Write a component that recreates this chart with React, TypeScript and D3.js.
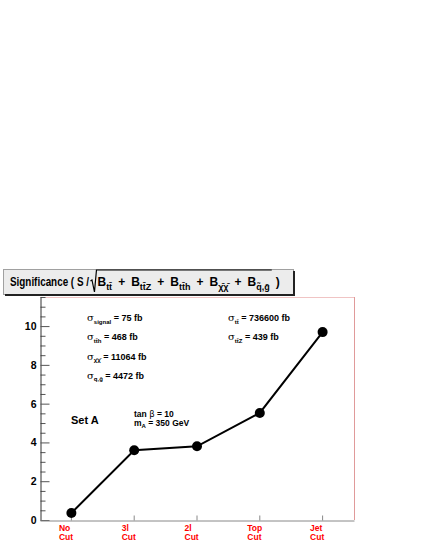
import React, { useEffect, useRef } from 'react';
import * as d3 from 'd3';

const W = 425;
const H = 550;

// cut flow categories (two-line labels) and the significance after each cut
const cutTop = ['No', '3l', '2l', 'Top', 'Jet'];
const cutBottom = ['Cut', 'Cut', 'Cut', 'Cut', 'Cut'];
const significance = [0.36, 3.6, 3.8, 5.52, 9.69];

const yMajorTicks = [0, 2, 4, 6, 8, 10];
const yMinorStep = 0.5;
const yMax = 11.5;

// cross sections written on the pad
const leftSigmaSubs = ['signal', 'tt\u0304h', '\u03C7\u0304\u03C7\u0304', 'q\u0304,g\u0304'];
const leftSigmaVals = ['75 fb', '468 fb', '11064 fb', '4472 fb'];
const rightSigmaSubs = ['tt\u0304', 'tt\u0304Z'];
const rightSigmaVals = ['736600 fb', '439 fb'];

// backgrounds under the square root in the title
const titleSubs = ['tt\u0304', 'tt\u0304Z', 'tt\u0304h', '\u03C7\u0304\u03C7\u0304', 'q\u0303,g\u0304'];

const FONT = '"Liberation Sans", Arial, Helvetica, sans-serif';

const App = () => {
    const svgRef = useRef<SVGSVGElement | null>(null);

    useEffect(() => {
        if (!svgRef.current) return;
        const svg = d3.select(svgRef.current);
        svg.selectAll('*').remove();

        const frame = { left: 40, right: 354, top: 297, bottom: 520 };

        const x = d3.scaleBand<string>()
            .domain(cutTop)
            .range([frame.left, frame.right]);
        const cx = (c: string) => (x(c) || 0) + x.bandwidth() / 2;

        const y = d3.scaleLinear()
            .domain([0, yMax])
            .range([frame.bottom, frame.top]);

        // --- FRAME (top + right, pinkish) ---
        svg.append('line')
            .attr('x1', frame.left).attr('x2', frame.right)
            .attr('y1', frame.top + 0.5).attr('y2', frame.top + 0.5)
            .attr('stroke', '#f0c4c4');
        svg.append('line')
            .attr('x1', frame.right + 0.5).attr('x2', frame.right + 0.5)
            .attr('y1', frame.top).attr('y2', frame.bottom)
            .attr('stroke', '#e09a9a');

        // --- Y AXIS ---
        const minorVals = d3.range(0, yMax + 0.01, yMinorStep)
            .filter(v => !yMajorTicks.includes(v));

        const yMinor = svg.append('g')
            .attr('transform', `translate(${frame.left + 0.5},0)`)
            .call(d3.axisLeft(y).tickValues(minorVals).tickSize(-5).tickSizeOuter(0).tickFormat(() => ''));
        yMinor.select('.domain').remove();
        yMinor.selectAll('.tick line').attr('stroke', '#555');

        const yAxis = svg.append('g')
            .attr('transform', `translate(${frame.left + 0.5},0)`)
            .call(d3.axisLeft(y).tickValues(yMajorTicks).tickSize(-9).tickSizeOuter(0).tickPadding(4).tickFormat(d3.format('d')));
        yAxis.select('.domain').attr('stroke', '#333');
        yAxis.selectAll('.tick line').attr('stroke', '#555');
        yAxis.selectAll('.tick text')
            .attr('fill', '#000')
            .attr('font-family', FONT)
            .attr('font-weight', 'bold')
            .attr('font-size', '10.5px');

        // --- X AXIS ---
        const xAxis = svg.append('g')
            .attr('transform', `translate(0,${frame.bottom + 0.5})`)
            .call(d3.axisBottom(x).tickSize(-5).tickSizeOuter(0).tickFormat(() => ''));
        xAxis.select('.domain').attr('stroke', '#888');
        xAxis.selectAll('.tick line').attr('stroke', '#888');

        const xLabels = svg.append('g')
            .attr('font-family', FONT)
            .attr('font-weight', 'bold')
            .attr('font-size', '8.5px')
            .attr('fill', '#ff0000');
        cutTop.forEach((c, i) => {
            const t = xLabels.append('text').attr('x', cx(c) - 12.5);
            t.append('tspan').attr('x', cx(c) - 12.5).attr('y', frame.bottom + 10.5).text(c);
            t.append('tspan').attr('x', cx(c) - 12.5).attr('y', frame.bottom + 20).text(cutBottom[i]);
        });

        // --- DATA ---
        const pts = cutTop.map((c, i) => [cx(c), y(significance[i])] as [number, number]);
        svg.append('path')
            .datum(pts)
            .attr('fill', 'none')
            .attr('stroke', '#000')
            .attr('stroke-width', 2)
            .attr('d', d3.line());
        svg.selectAll('.dot')
            .data(pts)
            .enter()
            .append('circle')
            .attr('cx', d => d[0])
            .attr('cy', d => d[1])
            .attr('r', 5)
            .attr('fill', '#000');

        // --- CROSS SECTION ANNOTATIONS ---
        const sigmaRow = (x0: number, y0: number, sub: string, val: string) => {
            const t = svg.append('text')
                .attr('x', x0).attr('y', y0)
                .attr('font-family', FONT)
                .attr('font-size', '9px')
                .attr('font-weight', 'bold');
            t.append('tspan').attr('font-family', '"DejaVu Serif", serif').attr('font-weight', 'normal').attr('font-size', '10px').text('\u03C3');
            t.append('tspan').attr('font-size', '6px').attr('dy', 2.5).text(sub);
            t.append('tspan').attr('dy', -2.5).text(' = ' + val);
        };
        leftSigmaSubs.forEach((s, i) => sigmaRow(87, 321 + i * 19.3, s, leftSigmaVals[i]));
        rightSigmaSubs.forEach((s, i) => sigmaRow(228, 321 + i * 19.3, s, rightSigmaVals[i]));

        svg.append('text')
            .attr('x', 71).attr('y', 424)
            .attr('font-family', FONT)
            .attr('font-weight', 'bold')
            .attr('font-size', '11px')
            .text('Set A');

        const tb = svg.append('text')
            .attr('font-family', FONT)
            .attr('font-weight', 'bold')
            .attr('font-size', '8.5px');
        tb.append('tspan').attr('x', 134).attr('y', 417).text('tan ');
        tb.append('tspan').attr('font-family', '"DejaVu Sans", sans-serif').attr('font-weight', 'normal').text('\u03B2');
        tb.append('tspan').text(' = 10');
        const ma = svg.append('text')
            .attr('x', 134).attr('y', 425.5)
            .attr('font-family', FONT)
            .attr('font-weight', 'bold')
            .attr('font-size', '8.5px');
        ma.append('tspan').text('m');
        ma.append('tspan').attr('font-size', '6px').attr('dy', 2).text('A');
        ma.append('tspan').attr('dy', -2).text(' = 350 GeV');

        // --- TITLE BOX ---
        const box = { x: 3, y: 269, w: 290, h: 25 };
        svg.append('rect')
            .attr('x', box.x + 0.5).attr('y', box.y + 0.5)
            .attr('width', box.w).attr('height', box.h)
            .attr('fill', '#ececec')
            .attr('stroke', '#a0a0a0');
        svg.append('path')
            .attr('d', `M${box.x + 2},${box.y + box.h + 1} H${box.x + box.w + 1} V${box.y + 2}`)
            .attr('fill', 'none')
            .attr('stroke', '#222')
            .attr('stroke-width', 2);

        const baseY = 286;
        const title = svg.append('g')
            .attr('font-family', FONT)
            .attr('font-weight', 'bold');

        // condensed lead-in
        const sx = 0.76;
        const lead = title.append('text')
            .attr('transform', `translate(10,${baseY}) scale(${sx},1)`)
            .attr('font-size', '13px')
            .text('Significance ( S /');
        let cursor = 10 + sx * (lead.node() as SVGTextElement).getComputedTextLength() + 1.5;

        const put = (txt: string, size: number, dy: number) => {
            const t = title.append('text')
                .attr('x', cursor).attr('y', baseY + dy)
                .attr('font-size', size + 'px')
                .text(txt);
            cursor += (t.node() as SVGTextElement).getComputedTextLength();
        };
        const radStart = cursor;
        cursor += 7;
        titleSubs.forEach((s, i) => {
            if (i > 0) {
                cursor += 6;
                put('+', 12, 0);
                cursor += 6;
            }
            put('B', 12, 0);
            put(s, 9, 3.5);
        });
        const radEnd = cursor + 2;
        cursor += 6;
        put(')', 12, 0);
        title.append('path')
            .attr('d', `M${radStart},${baseY - 5} L${radStart + 1.5},${baseY - 6} L${radStart + 4},${baseY + 6} L${radStart + 6},${baseY - 16} H${radEnd}`)
            .attr('fill', 'none')
            .attr('stroke', '#000')
            .attr('stroke-width', 1.2);
    }, []);

    return (
        <svg
            ref={svgRef}
            width={W}
            height={H}
            style={{ position: 'absolute', left: 0, top: 0, background: '#fff' }}
        />
    );
};

export default App;
